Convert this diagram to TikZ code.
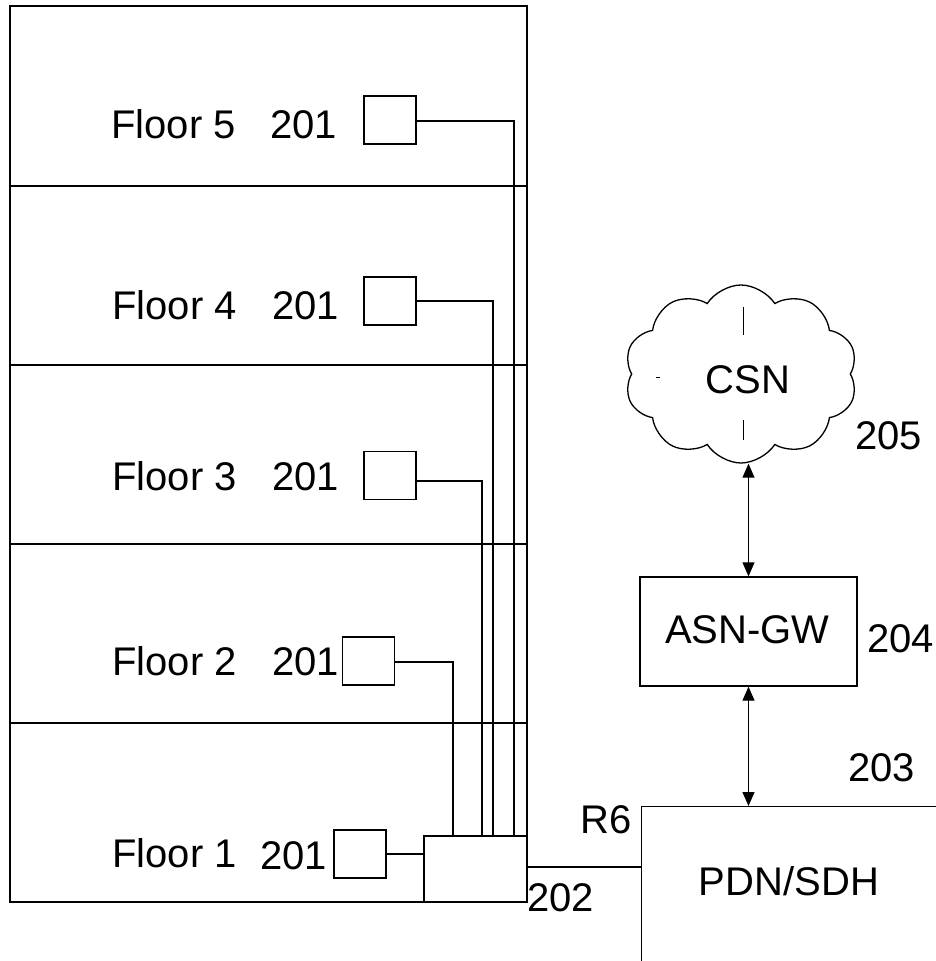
\documentclass[tikz,border=0pt]{standalone}
\usepackage{fontspec}
\setmainfont{Liberation Sans}
\usetikzlibrary{shapes.symbols,arrows.meta}
\begin{document}
\begin{tikzpicture}[x=1pt,y=-1pt,
  lbl/.style={anchor=base west,inner sep=0pt,font=\fontsize{40}{48}\selectfont},
  clbl/.style={anchor=base,inner sep=0pt,font=\fontsize{40}{48}\selectfont},
  dev/.style={draw,line width=1.3pt,minimum width=52pt,minimum height=48pt,inner sep=0pt},
  wire/.style={line width=1.1pt},
  box/.style={draw,line width=1.3pt,inner sep=0pt},
  dbl/.style={line width=1.1pt,{Triangle[width=12pt,length=14pt]}-{Triangle[width=12pt,length=14pt]}}]
\useasboundingbox (0,0) rectangle (936,961);
\clip (0,0) rectangle (936,961);
% building
\draw[line width=1.3pt] (10,6) rectangle (527,902);
\foreach \yy in {186,365,544,723} \draw[line width=1.1pt] (10,\yy) -- (527,\yy);
% labels
\node[lbl] (f5) at (111,138) {Floor 5};
\node[lbl] (n5) at (270,138) {201};
\node[lbl] (f4) at (112,319) {Floor 4};
\node[lbl] (n4) at (272,319) {201};
\node[lbl] (f3) at (112,490) {Floor 3};
\node[lbl] (n3) at (272,490) {201};
\node[lbl] (f2) at (112,675) {Floor 2};
\node[lbl] (n2) at (272,675) {201};
\node[lbl] (f1) at (112,867) {Floor 1};
\node[lbl] (n1) at (260,869) {201};
% devices
\node[dev] (d5) at (390,120) {};
\node[dev] (d4) at (390,301) {};
\node[dev] (d3) at (390,475.5) {};
\node[dev] (d2) at (368.5,661) {};
\node[dev] (d1) at (360,854) {};
% switch 202
\node[box,minimum width=103pt,minimum height=66pt] (sw) at (475.5,869) {};
\node[lbl] (l202) at (527,911) {202};
% wires
\draw[wire] (d5.east |- 0,121) -| (sw.north -| 514,0);
\draw[wire] (d4.east |- 0,301) -| (sw.north -| 493,0);
\draw[wire] (d3.east |- 0,481) -| (sw.north -| 482,0);
\draw[wire] (d2.east |- 0,662) -| (sw.north -| 453,0);
\draw[wire] (d1.east) -- (sw.west |- d1.east);
% PDN/SDH
\node[box,anchor=north west,minimum width=330pt,minimum height=200pt] (pdn) at (641,806) {};
\node[clbl] (lpdn) at (789,895) {PDN/SDH};
\draw[wire] (sw.east |- 0,867) -- (pdn.west |- 0,867);
\node[lbl] (r6) at (580,833) {R6};
\node[lbl] (l203) at (848,781) {203};
% ASN-GW
\node[box,minimum width=217pt,minimum height=109pt] (asn) at (748.5,631.5) {};
\node[clbl] (lasn) at (747.5,643) {ASN-GW};
\node[lbl] (l204) at (867,652) {204};
% CSN cloud
\node[cloud,draw,line width=1.3pt,cloud puffs=10,cloud puff arc=115,aspect=1.3,minimum width=233pt,minimum height=178pt,inner sep=0pt] (csn) at (741,374) {};
\node[clbl] (lcsn) at (748,393) {CSN};
\node[lbl] (l205) at (855,449) {205};
\draw[line width=1pt] (743,307) -- (743,335);
\draw[line width=1pt] (743,420) -- (743,440);
\draw[line width=1pt] (656,377) -- (660,377);
% arrows
\draw[dbl] (asn.north |- csn.south) -- (asn.north);
\draw[dbl] (asn.south) -- (pdn.north -| asn.south);
\end{tikzpicture}
\end{document}
